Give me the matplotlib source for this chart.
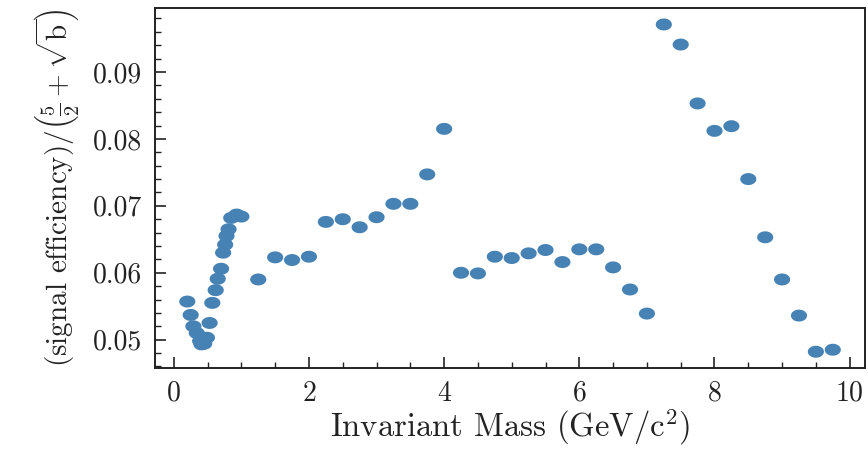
import numpy as np
import matplotlib
matplotlib.use("Agg")
import matplotlib.pyplot as plt
from matplotlib.path import Path
from matplotlib.ticker import MultipleLocator, FuncFormatter

mass = [0.20, 0.25, 0.29, 0.34, 0.39, 0.41, 0.45, 0.49, 0.53, 0.57, 0.62, 0.65,
        0.70, 0.73, 0.76, 0.78, 0.81, 0.85, 0.93, 1.00,
        1.25, 1.50, 1.75, 2.00, 2.25, 2.50, 2.75, 3.00, 3.25, 3.50, 3.75, 4.00,
        4.25, 4.50, 4.75, 5.00, 5.25, 5.50, 5.75, 6.00, 6.25, 6.50, 6.75, 7.00,
        7.25, 7.50, 7.75, 8.00, 8.25, 8.50, 8.75, 9.00, 9.25, 9.50, 9.75]
score = [0.0557, 0.0537, 0.0520, 0.0510, 0.0498, 0.0493, 0.0494, 0.0503, 0.0525, 0.0555, 0.0574, 0.0591,
         0.0606, 0.0630, 0.0642, 0.0655, 0.0665, 0.0682, 0.0687, 0.0684,
         0.0590, 0.0623, 0.0619, 0.0624, 0.0676, 0.0680, 0.0668, 0.0683, 0.0703, 0.0703, 0.0747, 0.0815,
         0.0600, 0.0599, 0.0624, 0.0622, 0.0629, 0.0634, 0.0616, 0.0635, 0.0635, 0.0608, 0.0575, 0.0539,
         0.0971, 0.0941, 0.0853, 0.0812, 0.0819, 0.0740, 0.0653, 0.0590, 0.0536, 0.0482, 0.0485]

plt.rcParams['font.family'] = 'cmr10'
plt.rcParams['mathtext.fontset'] = 'cm'
plt.rcParams['axes.formatter.use_mathtext'] = True

fig = plt.figure(figsize=(8.68, 4.5), dpi=100)
ax = fig.add_axes([0.1786, 0.182, 0.818, 0.8])

t = np.linspace(0, 2 * np.pi, 60)
ell = Path(np.column_stack([1.35 * np.cos(t), np.sin(t)]), closed=True)
ax.scatter(mass, score, s=135, marker=ell, color='#4682b4', edgecolors='none')

ax.xaxis.set_major_locator(MultipleLocator(2))
ax.xaxis.set_minor_locator(MultipleLocator(0.5))
ax.yaxis.set_major_locator(MultipleLocator(0.01))
ax.yaxis.set_minor_locator(MultipleLocator(0.002))
ax.tick_params(which='both', direction='in', top=False, right=False, labelsize=20, colors='#222222')
ax.tick_params(which='major', length=8, width=1.2, pad=9)
ax.tick_params(which='minor', length=4, width=1.0)
ax.yaxis.set_major_formatter(FuncFormatter(lambda v, p: f'{v:.2f}'))
for sp in ax.spines.values():
    sp.set_linewidth(1.4)
    sp.set_color('#222222')

ax.set_xlabel(r'Invariant Mass (GeV/c$^2$)', fontsize=23.5, color='#222222', labelpad=0)
ax.set_ylabel(r'(signal efficiency)/$\left(\frac{5}{2}+\sqrt{\mathrm{b}}\right)$', fontsize=21,
              color='#222222', labelpad=9)

fig.savefig('out.png', dpi=100)
